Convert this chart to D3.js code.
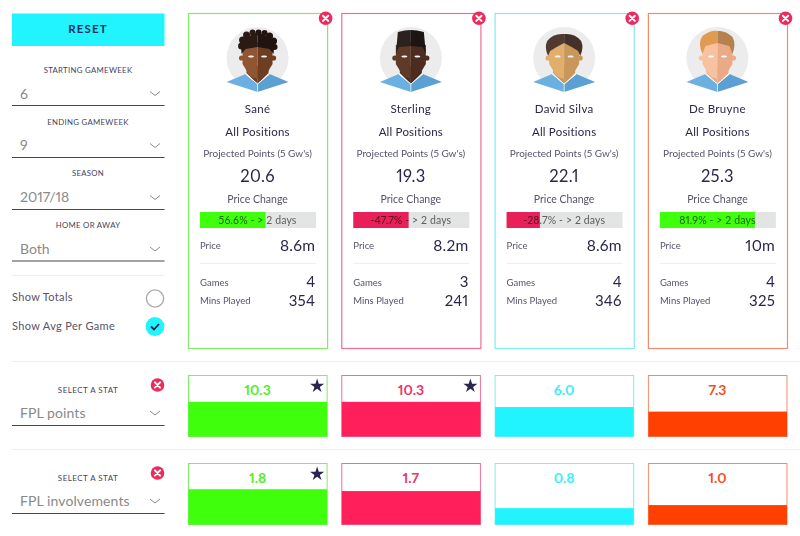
<!DOCTYPE html>
<html>
<head>
<meta charset="utf-8">
<script src="https://cdn.jsdelivr.net/npm/d3@7"></script>
<style>
	html, body { margin: 0; padding: 0; background: #fff; }
	svg { display: block; }
	text { font-family: Lato, "Noto Sans", sans-serif; font-variant-numeric: proportional-nums; }
</style>
</head>
<body>
<svg id="chart" width="800" height="536"></svg>
<script>
var players = ["Sané", "Sterling", "David Silva", "De Bruyne"];
var positions = ["All Positions", "All Positions", "All Positions", "All Positions"];
var projected = ["20.6", "19.3", "22.1", "25.3"];
var priceChange = [56.6, 47.7, 28.7, 81.9];
var priceLabels = ["56.6% - > 2 days", "-47.7% - > 2 days", "-28.7% - > 2 days", "81.9% - > 2 days"];
var prices = ["8.6m", "8.2m", "8.6m", "10m"];
var games = [4, 3, 4, 4];
var mins = [354, 241, 346, 325];

var statNames = ["FPL points", "FPL involvements"];
var statValues = [["10.3", "10.3", "6.0", "7.3"], ["1.8", "1.7", "0.8", "1.0"]];
// how much of each box the bar fills, in percent (not proportional to the label in the original)
var statFill = [[56, 56, 47.5, 40], [57, 54, 26, 31]];
var statBest = [[true, true, false, false], [true, false, false, false]];

var dropdownLabels = ["STARTING GAMEWEEK", "ENDING GAMEWEEK", "SEASON", "HOME OR AWAY"];
var dropdownValues = ["6", "9", "2017/18", "Both"];

var barColors = ["#3fff0d", "#ff1f5a", "#22f4ff", "#ff4000"];
var borderColors = ["#82ea6c", "#ee6f94", "#80ebf1", "#f28a6e"];
var textColors = ["#52ef2a", "#ee3568", "#3ceef8", "#f5501e"];
var priceFill = ["#3fff0d", "#e81f58", "#e81f58", "#3fff0d"];

var ink = "#2a2848";
var soft = "#55546a";
var svg = d3.select("#chart");

var x = d3.scaleBand().domain(players).range([188, 787]).paddingInner(0.0925);

function label(g, px, py, str, size, color, anchor, weight)
{
	return g.append("text")
		.attr("x", px)
		.attr("y", py)
		.attr("font-size", size)
		.attr("fill", color)
		.attr("text-anchor", anchor || "start")
		.attr("font-weight", weight || 400)
		.text(str);
}

function closeButton(g, px, py)
{
	g.append("circle").attr("cx", px).attr("cy", py).attr("r", 6.8).attr("fill", "#ee2a5c");
	g.append("path")
		.attr("d", "M" + (px - 2.6) + "," + (py - 2.6) + "l5.2,5.2M" + (px + 2.6) + "," + (py - 2.6) + "l-5.2,5.2")
		.attr("stroke", "#fff").attr("stroke-width", 2).attr("stroke-linecap", "round");
}

function dropdown(g, title, value, titleY, valueY, lineY)
{
	label(g, 88, titleY, title, 7.8, "#44435e", "middle").attr("letter-spacing", 0.3);
	label(g, 20, valueY, value, 14);
	g.append("path")
		.attr("d", "M150," + (lineY - 14) + "l5,4l5,-4")
		.attr("fill", "none").attr("stroke", "#8a8a9a").attr("stroke-width", 1);
	g.append("line")
		.attr("x1", 12).attr("x2", 164.5).attr("y1", lineY).attr("y2", lineY)
		.attr("stroke", "#45445f").attr("stroke-width", 1.2);
	g.selectAll("text").filter(function() { return d3.select(this).text() == value; }).attr("fill", "#8a8a8a");
}

// left panel
var panel = svg.append("g");
panel.append("rect").attr("x", 12).attr("y", 13.5).attr("width", 152.5).attr("height", 32.5).attr("fill", "#22f4ff");
label(panel, 88, 33, "RESET", 11.5, "#17305a", "middle", 700).attr("letter-spacing", 1.1);

var titleYs = [72.5, 124.5, 176, 228];
var valueYs = [98.5, 150, 202, 254];
var lineYs = [105.5, 157.5, 209.5, 261];
dropdownLabels.forEach(function(d, i)
{
	dropdown(panel, d, dropdownValues[i], titleYs[i], valueYs[i], lineYs[i]);
});

panel.append("line").attr("x1", 12).attr("x2", 164).attr("y1", 275.5).attr("y2", 275.5).attr("stroke", "#eeeeee");
label(panel, 12, 300.5, "Show Totals", 11, "#55546a").attr("letter-spacing", 0.35);
label(panel, 12, 329.5, "Show Avg Per Game", 11, "#55546a").attr("letter-spacing", 0.35);
panel.append("circle").attr("cx", 155).attr("cy", 298.5).attr("r", 8.6).attr("fill", "#fff").attr("stroke", "#aaaaaa").attr("stroke-width", 1.4);
panel.append("circle").attr("cx", 155).attr("cy", 326.5).attr("r", 9.4).attr("fill", "#22f4ff");
panel.append("path").attr("d", "M151,326.5l3,3l5,-5.5").attr("fill", "none").attr("stroke", "#1c1c3c").attr("stroke-width", 1.8);

// avatars, drawn in a local frame around the circle centre
var looks = [
	{ light: "#8f5631", dark: "#6d3e22", hair: "#2a1a14", hair2: "#21130f" },
	{ light: "#5f3a27", dark: "#4b2c1e", hair: "#2b211e", hair2: "#1c1514" },
	{ light: "#e2ae6c", dark: "#c9975b", hair: "#50392f", hair2: "#43302a" },
	{ light: "#f6c2a0", dark: "#eaaa88", hair: "#e09b50", hair2: "#b5824f" }
];

function drawHair(g, i, look)
{
	if (i == 0)
	{
		var curls = [[-16, -12, 3.5], [-15, -18, 3.5], [-11, -23, 3.5], [-5, -25.5, 3], [1, -25.5, 3], [7, -25, 3], [12, -22, 3.5], [16, -17, 3.5], [17, -11, 3]];
		curls.forEach(function(c)
		{
			g.append("circle").attr("cx", c[0]).attr("cy", c[1]).attr("r", c[2]).attr("fill", c[0] > 0 ? look.hair2 : look.hair);
		});
		g.append("path").attr("d", "M-16,-4L-17,-18L0,-26L0,-11L-12,-9Z").attr("fill", look.hair);
		g.append("path").attr("d", "M16,-4L17,-18L0,-26L0,-11L12,-9Z").attr("fill", look.hair2);
	}
	else if (i == 1)
	{
		g.append("path").attr("d", "M-15,-4L-13,-26Q-6,-28,0,-28L0,-12L-12,-11Z").attr("fill", look.hair);
		g.append("path").attr("d", "M15,-4L13,-26Q6,-28,0,-28L0,-12L12,-11Z").attr("fill", look.hair2);
	}
	else if (i == 2)
	{
		g.append("path").attr("d", "M-16,-2Q-20,-10,-17,-17Q-11,-25,0,-24L0,-15Q-8,-11,-14,-7Z").attr("fill", look.hair);
		g.append("path").attr("d", "M16,-2Q20,-10,17,-17Q11,-25,0,-24L0,-15Q8,-11,14,-7Z").attr("fill", look.hair2);
	}
	else
	{
		g.append("path").attr("d", "M-15,-4Q-20,-15,-15,-22Q-7,-28,0,-27L0,-15L-12,-12Z").attr("fill", look.hair);
		g.append("path").attr("d", "M15,-4Q19,-14,15,-21Q8,-28,0,-27L0,-15L12,-12Z").attr("fill", look.hair2);
	}
}

function drawAvatar(g, i)
{
	var look = looks[i];
	g.append("circle").attr("r", 31).attr("fill", "#ececec");
	g.append("path").attr("d", "M-31,24L-12,16L0,26L0,34Z").attr("fill", "#6cb0e2");
	g.append("path").attr("d", "M31,24L12,16L0,26L0,34Z").attr("fill", "#5b9fd3");
	g.append("path").attr("d", "M-11,8L0,8L0,26L-11,15Z").attr("fill", look.dark);
	g.append("path").attr("d", "M11,8L0,8L0,26L11,15Z").attr("fill", look.dark);
	g.append("path").attr("d", "M-12,16L0,26L12,16").attr("fill", "none").attr("stroke", "#fff").attr("stroke-width", 1);
	g.append("path").attr("d", "M0,26L0,34").attr("stroke", "#fff").attr("stroke-width", 0.7);
	g.append("circle").attr("cx", -16).attr("cy", 0).attr("r", 2.6).attr("fill", look.light);
	g.append("circle").attr("cx", 16).attr("cy", 0).attr("r", 2.6).attr("fill", look.dark);
	g.append("path").attr("d", "M0,-16L-15,-13L-15,6L-9,16L-6,19L0,21Z").attr("fill", look.light);
	g.append("path").attr("d", "M0,-16L15,-13L15,6L9,16L6,19L0,21Z").attr("fill", look.dark);
	g.append("ellipse").attr("cx", -6.5).attr("cy", -1.5).attr("rx", 3).attr("ry", 1).attr("fill", "#fff");
	g.append("ellipse").attr("cx", 6.5).attr("cy", -1.5).attr("rx", 3).attr("ry", 1).attr("fill", "#fff");
	drawHair(g, i, look);
}

// player cards
players.forEach(function(name, i)
{
	var left = x(name);
	var w = x.bandwidth();
	var mid = left + w / 2;
	var right = left + w - 12;
	var g = svg.append("g").style("isolation", "isolate");

	g.append("rect").attr("x", left + 0.5).attr("y", 13.5).attr("width", w).attr("height", 335)
		.attr("fill", "#fff").attr("stroke", borderColors[i]).attr("stroke-width", 1.2);
	closeButton(g, left + w - 1.5, 18.3);

	drawAvatar(g.append("g").attr("transform", "translate(" + mid + ",58)"), i);

	label(g, mid, 112.5, name, 11.5, ink, "middle").attr("letter-spacing", 0.3);
	label(g, mid, 136, positions[i], 11.5, ink, "middle").attr("letter-spacing", 0.2);
	label(g, mid, 156.5, "Projected Points (5 Gw's)", 10, soft, "middle");
	label(g, mid, 181.5, projected[i], 16.5, ink, "middle").attr("letter-spacing", 0.3);
	label(g, mid, 203, "Price Change", 10.5, soft, "middle");

	var priceX = d3.scaleLinear().domain([0, 100]).range([left + 12, left + 128]);
	g.append("rect").attr("x", priceX(0)).attr("y", 212).attr("width", priceX(100) - priceX(0)).attr("height", 16).attr("fill", "#e3e4e4");
	g.append("rect").attr("x", priceX(0)).attr("y", 212).attr("width", priceX(priceChange[i]) - priceX(0)).attr("height", 16).attr("fill", priceFill[i]);
	label(g, mid, 224, priceLabels[i], 10.5, "#6a6a6a", "middle")
		.attr("letter-spacing", 0.12)
		.style("mix-blend-mode", "multiply");

	label(g, left + 12, 249, "Price", 9.5, soft);
	label(g, right, 251, prices[i], 15.5, ink, "end").attr("letter-spacing", 0.2);
	g.append("line").attr("x1", left + 12).attr("x2", right + 1).attr("y1", 263.5).attr("y2", 263.5).attr("stroke", "#eeeeee");
	label(g, left + 12, 285.5, "Games", 9.5, soft);
	label(g, right, 287, games[i], 15, ink, "end");
	label(g, left + 12, 304, "Mins Played", 9.5, soft);
	label(g, right, 305.5, mins[i], 15, ink, "end").attr("letter-spacing", 0.2);
});

// stat rows
var rowTops = [375, 463];
var star = d3.symbol().type(d3.symbolStar).size(62);

[361.5, 449.5].forEach(function(y)
{
	svg.append("line").attr("x1", 12).attr("x2", 800).attr("y1", y).attr("y2", y).attr("stroke", "#eeeeee");
});

statNames.forEach(function(stat, r)
{
	var top = rowTops[r];
	var g = svg.append("g");
	var y = d3.scaleLinear().domain([0, 100]).range([top + 61, top]);

	label(g, 88, top + 17.5, "SELECT A STAT", 8, "#44435e", "middle").attr("letter-spacing", 0.45);
	closeButton(g, 157.5, top + 10);
	label(g, 20, top + 43, stat, 14, "#8a8a8a").attr("letter-spacing", 0.1);
	g.append("path")
		.attr("d", "M150," + (top + 36) + "l5,4l5,-4")
		.attr("fill", "none").attr("stroke", "#8a8a9a").attr("stroke-width", 1);
	g.append("line").attr("x1", 12).attr("x2", 164.5).attr("y1", top + 50.5).attr("y2", top + 50.5)
		.attr("stroke", "#45445f").attr("stroke-width", 1.2);

	g.selectAll("rect.box").data(players).enter().append("rect")
		.attr("class", "box")
		.attr("x", function(d) { return x(d) + 0.5; })
		.attr("y", y(100) + 0.5)
		.attr("width", x.bandwidth() - 0.5)
		.attr("height", y(0) - y(100))
		.attr("fill", "#fff")
		.attr("stroke", function(d, i) { return borderColors[i]; });

	g.selectAll("rect.bar").data(statFill[r]).enter().append("rect")
		.attr("class", "bar")
		.attr("x", function(d, i) { return x(players[i]) + 0.5; })
		.attr("y", function(d) { return y(d); })
		.attr("width", x.bandwidth() - 0.5)
		.attr("height", function(d) { return y(0) - y(d) + 0.5; })
		.attr("fill", function(d, i) { return barColors[i]; });

	statValues[r].forEach(function(v, i)
	{
		var mid = x(players[i]) + x.bandwidth() / 2;
		label(g, mid, top + 20, v, 14, textColors[i], "middle", 700);
		if (statBest[r][i])
			g.append("path").attr("d", star)
				.attr("transform", "translate(" + (x(players[i]) + x.bandwidth() - 10) + "," + (top + 11) + ")")
				.attr("fill", "#2d2350");
	});
});
</script>
</body>
</html>
